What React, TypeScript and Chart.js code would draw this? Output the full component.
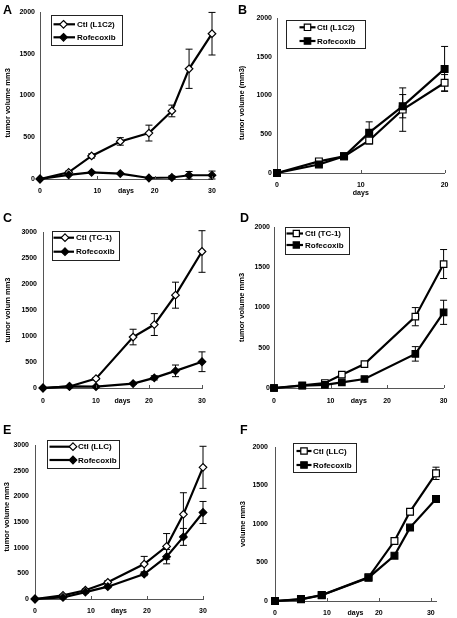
import React, { useEffect, useRef } from "react";
import { Chart, registerables } from "chart.js";

Chart.register(...registerables);

const FONT = '"Liberation Sans", Arial, Helvetica, sans-serif';

// ---- Panel A (L1C2) ----
const aDays = [0, 5, 9, 14, 19, 23, 26, 30];
const aCtl = [0, 80, 276, 450, 550, 815, 1320, 1740];
const aCtlErr = [0, 15, 25, 45, 95, 70, 235, 255];
const aRof = [0, 50, 80, 65, 12, 18, 45, 45];
const aRofErr = [0, 0, 0, 0, 0, 20, 45, 50];

// ---- Panel B (L1C2) ----
const bDays = [0, 5, 8, 11, 15, 20];
const bCtl = [0, 150, 215, 420, 818, 1165];
const bCtlErr = [0, 20, 20, 45, 280, 105];
const bRof = [0, 110, 215, 520, 862, 1343];
const bRofErr = [0, 15, 20, 140, 150, 290];

// ---- Panel C (TC-1) ----
const cDays = [0, 5, 10, 17, 21, 25, 30];
const cCtl = [0, 30, 180, 980, 1220, 1785, 2625];
const cCtlErr = [0, 0, 20, 150, 210, 250, 400];
const cRof = [0, 30, 25, 85, 195, 330, 505];
const cRofErr = [0, 0, 0, 15, 40, 112, 190];

// ---- Panel D (TC-1) ----
const dDays = [0, 5, 9, 12, 16, 25, 30];
const dCtl = [0, 33, 62, 165, 297, 886, 1540];
const dCtlErr = [0, 0, 10, 25, 20, 113, 180];
const dRof = [0, 28, 40, 70, 112, 424, 940];
const dRofErr = [0, 0, 0, 10, 10, 90, 150];

// ---- Panel E (LLC) ----
const eDays = [0, 5, 9, 13, 19.5, 23.5, 26.5, 30];
const eCtl = [0, 70, 170, 325, 680, 1025, 1650, 2565];
const eCtlErr = [0, 20, 25, 30, 150, 250, 420, 410];
const eRof = [0, 30, 135, 240, 485, 825, 1210, 1685];
const eRofErr = [0, 10, 20, 20, 30, 140, 165, 215];

// ---- Panel F (LLC) ----
const fDays = [0, 5, 9, 18, 23, 26, 31];
const fCtl = [0, 25, 78, 307, 779, 1160, 1658];
const fCtlErr = [0, 0, 0, 0, 20, 40, 80];
const fRof = [0, 22, 74, 303, 589, 953, 1325];
const fRofErr = [0, 0, 0, 0, 0, 0, 0];

// ---- ticks / labels ----
const xTicks30 = [0, 10, 20, 30];
const xTicks20 = [0, 10, 20];
const yTicks2000 = [0, 500, 1000, 1500, 2000];
const yTicks3000 = [0, 500, 1000, 1500, 2000, 2500, 3000];
const xTitle = "days";
const rofLabel = "Rofecoxib";

type Series = { label: string; days: number[]; vol: number[]; err: number[]; open: boolean };
type Spec = {
  letter: string;
  letterPos: [number, number];
  canvas: { x: number; y: number; w: number; h: number };
  area: { l: number; t: number; r: number; b: number };
  xMax: number;
  xTicks: number[];
  yMax: number;
  yTicks: number[];
  yTitle: string;
  yTitleShift: number; // + moves visible text down
  yTitleCx: number;
  yTickPad: number;
  xTickPad: number;
  xTitleCy: number;
  marker: "rectRot" | "rect";
  r: number;
  legend: { box: [number, number, number, number]; rows: [number, number]; line: [number, number]; mx: number; tx: number };
  series: Series[];
};

const panels: Spec[] = [
  {
    letter: "A", letterPos: [3, 13.5],
    canvas: { x: 0, y: 0, w: 228, h: 200 },
    area: { l: 40, t: 12, r: 212, b: 179 },
    xMax: 30, xTicks: xTicks30, yMax: 2000, yTicks: yTicks2000,
    yTitle: "tumor volume mm3", yTitleShift: 7, yTitleCx: 8.3, yTickPad: 5, xTickPad: 9, xTitleCy: 191,
    marker: "rectRot", r: 3.8,
    legend: { box: [51, 15, 122, 45], rows: [24.3, 37.3], line: [53.5, 75], mx: 63.5, tx: 77 },
    series: [
      { label: "Ctl (L1C2)", days: aDays, vol: aCtl, err: aCtlErr, open: true },
      { label: rofLabel, days: aDays, vol: aRof, err: aRofErr, open: false },
    ],
  },
  {
    letter: "B", letterPos: [238, 13.5],
    canvas: { x: 228, y: 0, w: 229, h: 200 },
    area: { l: 277, t: 18, r: 449, b: 173 },
    xMax: 20, xTicks: xTicks20, yMax: 2000, yTicks: yTicks2000,
    yTitle: "tumor volume (mm3)", yTitleShift: 7, yTitleCx: 241.5, yTickPad: 5, xTickPad: 8.5, xTitleCy: 193.3,
    marker: "rect", r: 4.8,
    legend: { box: [286, 20, 365, 48], rows: [27.3, 41], line: [299.5, 315.5], mx: 307.5, tx: 317 },
    series: [
      { label: "Ctl (L1C2)", days: bDays, vol: bCtl, err: bCtlErr, open: true },
      { label: rofLabel, days: bDays, vol: bRof, err: bRofErr, open: false },
    ],
  },
  {
    letter: "C", letterPos: [3, 222],
    canvas: { x: 0, y: 200, w: 228, h: 205 },
    area: { l: 43, t: 232, r: 202, b: 388 },
    xMax: 30, xTicks: xTicks30, yMax: 3000, yTicks: yTicks3000,
    yTitle: "tumor volum mm3", yTitleShift: 0, yTitleCx: 8.3, yTickPad: 6, xTickPad: 9.5, xTitleCy: 401,
    marker: "rectRot", r: 3.8,
    legend: { box: [52, 231, 119, 260], rows: [237.7, 251.7], line: [53.5, 74], mx: 65, tx: 76 },
    series: [
      { label: "Ctl (TC-1)", days: cDays, vol: cCtl, err: cCtlErr, open: true },
      { label: rofLabel, days: cDays, vol: cRof, err: cRofErr, open: false },
    ],
  },
  {
    letter: "D", letterPos: [240, 222],
    canvas: { x: 228, y: 200, w: 229, h: 205 },
    area: { l: 274, t: 227, r: 448, b: 388 },
    xMax: 30, xTicks: xTicks30, yMax: 2000, yTicks: yTicks2000,
    yTitle: "tumor volume mm3", yTitleShift: 0, yTitleCx: 241.7, yTickPad: 4, xTickPad: 9.5, xTitleCy: 401,
    marker: "rect", r: 4.6,
    legend: { box: [285, 227, 349, 254], rows: [233.5, 245], line: [286.5, 303], mx: 296.3, tx: 305 },
    series: [
      { label: "Ctl (TC-1)", days: dDays, vol: dCtl, err: dCtlErr, open: true },
      { label: rofLabel, days: dDays, vol: dRof, err: dRofErr, open: false },
    ],
  },
  {
    letter: "E", letterPos: [3, 433.5],
    canvas: { x: 0, y: 405, w: 228, h: 213 },
    area: { l: 35, t: 445, r: 203, b: 599 },
    xMax: 30, xTicks: xTicks30, yMax: 3000, yTicks: yTicks3000,
    yTitle: "tumor volume mm3", yTitleShift: -5, yTitleCx: 7, yTickPad: 6, xTickPad: 8.5, xTitleCy: 611,
    marker: "rectRot", r: 3.8,
    legend: { box: [47, 440, 119, 468], rows: [446.7, 460], line: [49.5, 73], mx: 73, tx: 78 },
    series: [
      { label: "Ctl (LLC)", days: eDays, vol: eCtl, err: eCtlErr, open: true },
      { label: rofLabel, days: eDays, vol: eRof, err: eRofErr, open: false },
    ],
  },
  {
    letter: "F", letterPos: [240, 433.5],
    canvas: { x: 228, y: 405, w: 229, h: 213 },
    area: { l: 275, t: 447, r: 436, b: 601 },
    xMax: 31, xTicks: xTicks30, yMax: 2000, yTicks: yTicks2000,
    yTitle: "volume mm3", yTitleShift: 0, yTitleCx: 243, yTickPad: 7, xTickPad: 9, xTitleCy: 613,
    marker: "rect", r: 4.8,
    legend: { box: [293, 443, 356, 472], rows: [451, 465], line: [296.5, 311.5], mx: 304, tx: 313 },
    series: [
      { label: "Ctl (LLC)", days: fDays, vol: fCtl, err: fCtlErr, open: true },
      { label: rofLabel, days: fDays, vol: fRof, err: fRofErr, open: false },
    ],
  },
];

function drawMarker(ctx: CanvasRenderingContext2D, style: string, x: number, y: number, r: number, open: boolean) {
  ctx.beginPath();
  if (style === "rectRot") {
    ctx.moveTo(x, y - r);
    ctx.lineTo(x + r, y);
    ctx.lineTo(x, y + r);
    ctx.lineTo(x - r, y);
    ctx.closePath();
  } else {
    const s = r * Math.SQRT1_2;
    ctx.rect(x - s, y - s, 2 * s, 2 * s);
  }
  ctx.fillStyle = open ? "#fff" : "#000";
  ctx.fill();
  ctx.lineWidth = 1.2;
  ctx.strokeStyle = "#000";
  ctx.stroke();
}

function Panel({ spec }: { spec: Spec }) {
  const ref = useRef<HTMLCanvasElement | null>(null);
  useEffect(() => {
    const canvas = ref.current;
    if (!canvas) return;
    const c = spec.canvas;
    const a = spec.area;
    const titleLH = 7.5;
    const padL = spec.yTitleCx - c.x - titleLH / 2;
    const yWidth = a.l - c.x - padL;
    const padT = a.t - c.y;
    const padR = c.x + c.w - a.r;
    const xHeight = c.y + c.h - a.b;
    const xTitleLH = 7;
    const xTitlePadB = c.y + c.h - spec.xTitleCy - xTitleLH / 2;
    const spaceW = 0.278 * 7.5;
    const nSp = Math.round((2 * Math.abs(spec.yTitleShift)) / spaceW);
    const sp = " ".repeat(nSp);
    const yTitleText = spec.yTitleShift > 0 ? spec.yTitle + sp : spec.yTitleShift < 0 ? sp + spec.yTitle : spec.yTitle;

    const errorPlugin = {
      id: "errorBars",
      beforeDatasetsDraw(chart: any) {
        const ctx = chart.ctx;
        const xs = chart.scales.x;
        const ys = chart.scales.y;
        ctx.save();
        ctx.strokeStyle = "#000";
        ctx.lineWidth = 1;
        spec.series.forEach((s) => {
          s.days.forEach((d, i) => {
            const e = s.err[i];
            if (!e) return;
            const x = xs.getPixelForValue(d);
            const yt = ys.getPixelForValue(s.vol[i] + e);
            const yb = ys.getPixelForValue(Math.max(0, s.vol[i] - e));
            ctx.beginPath();
            ctx.moveTo(x, yt);
            ctx.lineTo(x, yb);
            ctx.moveTo(x - 3.5, yt);
            ctx.lineTo(x + 3.5, yt);
            ctx.moveTo(x - 3.5, yb);
            ctx.lineTo(x + 3.5, yb);
            ctx.stroke();
          });
        });
        ctx.restore();
      },
    };

    const decorPlugin = {
      id: "decor",
      afterDraw(chart: any) {
        const ctx: CanvasRenderingContext2D = chart.ctx;
        const xs = chart.scales.x;
        const bottom = chart.chartArea.bottom;
        ctx.save();
        // inward x ticks
        ctx.strokeStyle = "#555";
        ctx.lineWidth = 1;
        spec.xTicks.forEach((v) => {
          if (v === 0) return;
          const x = Math.round(xs.getPixelForValue(v)) + 0.5;
          ctx.beginPath();
          ctx.moveTo(x, bottom);
          ctx.lineTo(x, bottom - 3);
          ctx.stroke();
        });
        // panel letter
        ctx.fillStyle = "#000";
        ctx.font = `bold 12.5px ${FONT}`;
        ctx.textBaseline = "alphabetic";
        ctx.textAlign = "left";
        ctx.fillText(spec.letter, spec.letterPos[0] - c.x, spec.letterPos[1] - c.y);
        // legend
        const L = spec.legend;
        ctx.strokeStyle = "#222";
        ctx.lineWidth = 1;
        ctx.strokeRect(Math.round(L.box[0] - c.x) + 0.5, Math.round(L.box[1] - c.y) + 0.5, Math.round(L.box[2] - L.box[0]), Math.round(L.box[3] - L.box[1]));
        spec.series.forEach((s, k) => {
          const y = L.rows[k] - c.y;
          ctx.strokeStyle = "#000";
          ctx.lineWidth = 2.2;
          ctx.beginPath();
          ctx.moveTo(L.line[0] - c.x, y);
          ctx.lineTo(L.line[1] - c.x, y);
          ctx.stroke();
          drawMarker(ctx, spec.marker, L.mx - c.x, y, spec.r * (spec.marker === "rect" ? 0.95 : 1), s.open);
          ctx.fillStyle = "#000";
          ctx.font = `bold 8px ${FONT}`;
          ctx.textBaseline = "middle";
          ctx.textAlign = "left";
          ctx.fillText(s.label, L.tx - c.x, y + 0.5);
        });
        ctx.restore();
      },
    };

    const chart = new Chart(canvas, {
      type: "line",
      data: {
        datasets: spec.series.map((s, k) => ({
          label: s.label,
          data: s.days.map((d, i) => ({ x: d, y: s.vol[i] })),
          borderColor: "#000",
          borderWidth: 2.2,
          backgroundColor: s.open ? "#fff" : "#000",
          pointStyle: spec.marker,
          pointRadius: spec.r,
          pointHoverRadius: spec.r,
          pointBorderWidth: 1.2,
          pointBackgroundColor: s.open ? "#fff" : "#000",
          pointBorderColor: "#000",
          tension: 0,
          fill: false,
          clip: false,
          order: k === 0 ? 1 : 0,
        })),
      } as any,
      options: {
        responsive: false,
        animation: false,
        devicePixelRatio: 1,
        events: [],
        layout: { padding: { left: padL, top: padT, right: padR, bottom: 0 } },
        plugins: { legend: { display: false }, tooltip: { enabled: false }, title: { display: false } },
        scales: {
          x: {
            type: "linear",
            min: 0,
            max: spec.xMax,
            afterBuildTicks: (s: any) => {
              s.ticks = spec.xTicks.map((v) => ({ value: v }));
            },
            afterFit: (s: any) => {
              s.height = xHeight;
            },
            grid: { display: false, drawTicks: false },
            border: { display: true, color: "#555", width: 1 },
            ticks: {
              color: "#000",
              padding: spec.xTickPad,
              maxRotation: 0,
              autoSkip: false,
              font: { family: FONT, size: 7, weight: "bold", lineHeight: 1 },
              callback: (v: any) => String(v),
            },
            title: {
              display: true,
              text: xTitle,
              color: "#000",
              padding: { top: 0, bottom: xTitlePadB },
              font: { family: FONT, size: 7, weight: "bold", lineHeight: 1 },
            },
          },
          y: {
            type: "linear",
            min: 0,
            max: spec.yMax,
            afterBuildTicks: (s: any) => {
              s.ticks = spec.yTicks.map((v) => ({ value: v }));
            },
            afterFit: (s: any) => {
              s.width = yWidth;
            },
            grid: { display: false, drawTicks: false },
            border: { display: true, color: "#555", width: 1 },
            ticks: {
              color: "#000",
              padding: spec.yTickPad,
              autoSkip: false,
              font: { family: FONT, size: 7, weight: "bold", lineHeight: 1 },
              callback: (v: any) => String(v),
            },
            title: {
              display: true,
              text: yTitleText,
              color: "#000",
              padding: 0,
              font: { family: FONT, size: 7.5, weight: "bold", lineHeight: 1 },
            },
          },
        },
      } as any,
      plugins: [errorPlugin, decorPlugin],
    });
    return () => chart.destroy();
  }, [spec]);

  return (
    <canvas
      ref={ref}
      width={spec.canvas.w}
      height={spec.canvas.h}
      style={{ position: "absolute", left: spec.canvas.x, top: spec.canvas.y, width: spec.canvas.w, height: spec.canvas.h, display: "block" }}
    />
  );
}

export default function App() {
  return (
    <div style={{ position: "absolute", left: 0, top: 0, width: 457, height: 618, background: "#fff", overflow: "hidden" }}>
      {panels.map((p) => (
        <Panel key={p.letter} spec={p} />
      ))}
    </div>
  );
}
